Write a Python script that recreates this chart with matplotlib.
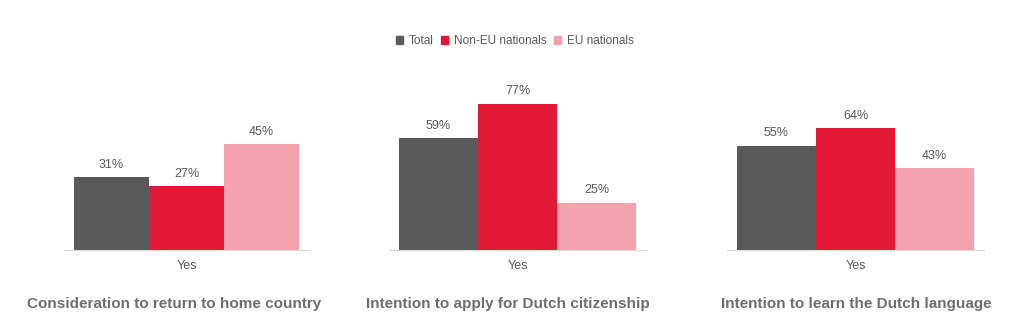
import numpy as np
import matplotlib
matplotlib.use("Agg")
import matplotlib.pyplot as plt
from matplotlib import font_manager as fm

# police de type Arial (Liberation Sans, pas la version Narrow)
reg = [f for f in fm.findSystemFonts() if f.endswith("LiberationSans-Regular.ttf")]
bold = [f for f in fm.findSystemFonts() if f.endswith("LiberationSans-Bold.ttf")]
if reg:
    fm.fontManager.addfont(reg[0])
    fp = fm.FontProperties(fname=reg[0])
else:
    fp = fm.FontProperties(family="DejaVu Sans")
fpb = fm.FontProperties(fname=bold[0]) if bold else fm.FontProperties(family="DejaVu Sans", weight="bold")
plt.rcParams['font.family'] = [fp.get_name(), 'DejaVu Sans']

# données
series = ["Total", "Non-EU nationals", "EU nationals"]
titles = ["Consideration to return to home country",
          "Intention to apply for Dutch citizenship",
          "Intention to learn the Dutch language"]
category = "Yes"
total = [31, 59, 55]
non_eu = [27, 77, 64]
eu = [45, 25, 43]

colors = ["#595959", "#E31837", "#F4A3AE"]
text_col = "#595959"
title_col = "#6D6E71"

fig = plt.figure(figsize=(10.24, 3.22), dpi=100)
W, H = 1024, 322

# positions des axes en pixels : (gauche des barres, largeur d'une barre, px par %)
panels = [(74, 75, 2.36), (399, 79, 1.90), (737, 79, 1.90)]
title_x = [174, 508, 856]
m = 0.13            # marge en unités de barre
y_base, y_top = 250, 80

for k, (x0, unit, ppp) in enumerate(panels):
    left = x0 - m * unit
    width = (3 + 2 * m) * unit
    ax = fig.add_axes([left / W, (H - y_base) / H, width / W, (y_base - y_top) / H])
    vals = [total[k], non_eu[k], eu[k]]
    xs = np.arange(3) - 1
    bars = ax.bar(xs, vals, width=1.0, color=colors)
    ax.set_xlim(-1.5 - m, 1.5 + m)
    ax.set_ylim(0, (y_base - y_top) / ppp)
    for b, v in zip(bars, vals):
        ax.annotate(f"{v}%", (b.get_x() + b.get_width() / 2, v),
                    xytext=(0, 4.5), textcoords="offset points",
                    ha="center", va="bottom", fontproperties=fp, fontsize=9,
                    color=text_col)
    for s in ["top", "right", "left"]:
        ax.spines[s].set_visible(False)
    ax.spines["bottom"].set_color("#D9D9D9")
    ax.set_yticks([])
    ax.set_xticks([0])
    ax.set_xticklabels([category], fontproperties=fp, fontsize=9, color=text_col)
    ax.tick_params(axis="x", length=0, pad=7)
    fig.text(title_x[k] / W, 1 - 304 / H, titles[k], ha="center", va="center",
             fontproperties=fpb, fontsize=11, color=title_col)

# légende
handles = [plt.Rectangle((0, 0), 1, 1, color=c) for c in colors]
leg_fp = fp.copy()
leg_fp.set_size(8.5)
fig.legend(handles, series, loc="center", bbox_to_anchor=(515 / W, 1 - 41 / H),
           ncol=3, frameon=False, prop=leg_fp, labelcolor=text_col,
           handlelength=0.6, handleheight=0.6, handletextpad=0.5, columnspacing=0.6)

fig.savefig("out.png", dpi=100)
